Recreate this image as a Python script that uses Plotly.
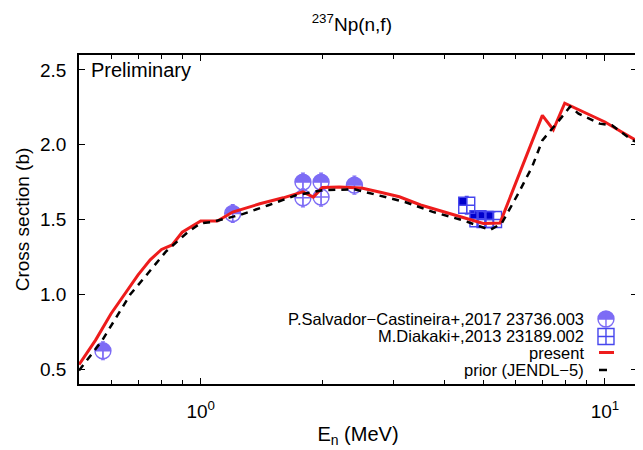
import math
import plotly.graph_objects as go

# ---------------- data ----------------
# P.Salvador-Castineira+,2017 (EXFOR 23736.003)
sal_x = [0.573, 1.20, 1.79, 1.79, 1.985, 1.985, 2.40]
sal_y = [0.622, 1.540, 1.645, 1.750, 1.650, 1.750, 1.730]
sal_err = [0.06, 0.06, 0.06, 0.06, 0.06, 0.06, 0.06]

# M.Diakaki+,2013 (EXFOR 23189.002)
dia_x = [4.55, 4.85, 5.05, 5.30]
dia_y = [1.595, 1.505, 1.500, 1.500]
dia_err = [0.06, 0.05, 0.05, 0.05]

# present evaluation
present_x = [0.50, 0.55, 0.60, 0.65, 0.70, 0.75, 0.80, 0.85, 0.90, 1.00, 1.10,
             1.20, 1.40, 1.60, 1.79, 1.90, 2.00, 2.20, 2.50, 2.80, 3.10, 3.50,
             4.00, 4.50, 5.00, 5.50, 7.00, 7.45, 7.95, 9.00, 10.0, 11.0, 12.0]
present_y = [0.530, 0.695, 0.870, 1.005, 1.130, 1.230, 1.300, 1.330, 1.415, 1.490, 1.490,
             1.550, 1.605, 1.645, 1.685, 1.650, 1.714, 1.718, 1.710, 1.680, 1.652, 1.597,
             1.548, 1.510, 1.473, 1.477, 2.196, 2.100, 2.278, 2.208, 2.152, 2.085, 2.025]

# prior (JENDL-5)
prior_x = [0.50, 0.57, 0.61, 0.67, 0.73, 0.82, 0.93, 1.00, 1.07, 1.25, 1.47, 1.72,
           2.00, 2.40, 3.20, 3.75, 4.45, 5.20, 5.55, 6.10, 6.60, 7.00, 7.70, 8.20,
           8.60, 9.70, 10.4, 11.7, 12.0]
prior_y = [0.490, 0.690, 0.820, 1.000, 1.120, 1.285, 1.417, 1.475, 1.484, 1.530, 1.595, 1.662,
           1.696, 1.702, 1.617, 1.551, 1.495, 1.430, 1.473, 1.673, 1.851, 2.029, 2.163, 2.255,
           2.208, 2.141, 2.130, 2.029, 2.020]

# axis ticks
y_ticks = [0.5, 1.0, 1.5, 2.0, 2.5]
y_ticktext = ["0.5", "1.0", "1.5", "2.0", "2.5"]
x_ticks = [1, 10]
x_ticktext = ["10<sup>0</sup>", "10<sup>1</sup>"]
x_minor = [0.6, 0.7, 0.8, 0.9, 2, 3, 4, 5, 6, 7, 8, 9]

# legend labels
leg_labels = ["P.Salvador\u2212Castineira+,2017 23736.003",
              "M.Diakaki+,2013 23189.002",
              "present",
              "prior (JENDL\u22125)"]

# ---------------- styling ----------------
FONT = "Liberation Sans, Arial, Helvetica, sans-serif"
PURPLE = "#7d6cf5"
BLUE_FILL = "#0000cc"
BLUE_LINE = "#4646ee"
RED = "#ee1c1c"
MS = 16  # marker size

# legend geometry (paper fractions of the plot area)
leg_rows = [0.1976, 0.1444, 0.0957, 0.0426]
leg_text_x = 0.908
leg_sym_x = 0.9444
leg_line_x = [0.9319, 0.9588]

fig = go.Figure()


def halfcircle_fill(x, y, xaxis="x", yaxis="y"):
    # filled disc
    fig.add_trace(go.Scatter(x=x, y=y, mode="markers", xaxis=xaxis, yaxis=yaxis,
                             marker=dict(symbol="circle", size=MS, color=PURPLE,
                                         line=dict(width=0)),
                             hoverinfo="skip", showlegend=False))


def halfcircle_cover(x, y, xaxis="x", yaxis="y"):
    # white square hiding the lower half of the disc
    fig.add_trace(go.Scatter(x=x, y=y, mode="markers", xaxis=xaxis, yaxis=yaxis,
                             marker=dict(symbol="square", size=MS + 1, color="white",
                                         angle=0, standoff=(MS + 1) / 2,
                                         line=dict(width=0)),
                             hoverinfo="skip", showlegend=False))


def halfcircle_outline(x, y, xaxis="x", yaxis="y", err=None):
    fig.add_trace(go.Scatter(x=x, y=y, mode="markers", xaxis=xaxis, yaxis=yaxis,
                             error_y=(dict(type="data", array=err, color=PURPLE,
                                           thickness=1.2, width=2) if err else None),
                             marker=dict(symbol="circle-cross-open", size=MS, color=PURPLE,
                                         line=dict(width=1.4, color=PURPLE)),
                             hoverinfo="skip", showlegend=False))


def quad_fill(x, y, xaxis="x", yaxis="y"):
    # filled upper-left quadrant of the square symbol
    fig.add_trace(go.Scatter(x=x, y=y, mode="markers", xaxis=xaxis, yaxis=yaxis,
                             marker=dict(symbol="diamond", size=MS / 2 * math.sqrt(2) / 1.3,
                                         color=BLUE_FILL, angle=135,
                                         standoff=MS / 4 * math.sqrt(2),
                                         line=dict(width=0)),
                             hoverinfo="skip", showlegend=False))


def square_outline(x, y, xaxis="x", yaxis="y", err=None):
    fig.add_trace(go.Scatter(x=x, y=y, mode="markers", xaxis=xaxis, yaxis=yaxis,
                             error_y=(dict(type="data", array=err, color=BLUE_LINE,
                                           thickness=1.2, width=2) if err else None),
                             marker=dict(symbol="square-cross-open", size=MS, color=BLUE_LINE,
                                         line=dict(width=1.4, color=BLUE_LINE)),
                             hoverinfo="skip", showlegend=False))


# ----- data marks -----
halfcircle_fill(sal_x, sal_y)
quad_fill(dia_x, dia_y)
halfcircle_cover(sal_x, sal_y)
halfcircle_outline(sal_x, sal_y, err=sal_err)
square_outline(dia_x, dia_y, err=dia_err)

fig.add_trace(go.Scatter(x=present_x, y=present_y, mode="lines", name="present",
                         line=dict(color=RED, width=3), showlegend=False))
fig.add_trace(go.Scatter(x=prior_x, y=prior_y, mode="lines", name="prior (JENDL-5)",
                         line=dict(color="black", width=2.5, dash="7px,6px"),
                         showlegend=False))

# ----- hand-made legend (symbols on the right, as in the reference) -----
lx = [leg_sym_x]
halfcircle_fill(lx, [leg_rows[0]], "x2", "y2")
quad_fill(lx, [leg_rows[1]], "x2", "y2")
halfcircle_cover(lx, [leg_rows[0]], "x2", "y2")
halfcircle_outline(lx, [leg_rows[0]], "x2", "y2")
square_outline(lx, [leg_rows[1]], "x2", "y2")
fig.add_trace(go.Scatter(x=leg_line_x, y=[leg_rows[2], leg_rows[2]], mode="lines",
                         xaxis="x2", yaxis="y2", line=dict(color=RED, width=3),
                         hoverinfo="skip", showlegend=False))
fig.add_trace(go.Scatter(x=leg_line_x, y=[leg_rows[3], leg_rows[3]], mode="lines",
                         xaxis="x2", yaxis="y2",
                         line=dict(color="black", width=2.5, dash="8px,10px"),
                         hoverinfo="skip", showlegend=False))

annotations = []
for lab, ry in zip(leg_labels, leg_rows):
    annotations.append(dict(text=lab, x=leg_text_x, y=ry, xref="paper", yref="paper",
                            xanchor="right", yanchor="middle", showarrow=False,
                            font=dict(size=16.5, color="black", family=FONT)))
annotations.append(dict(text="Preliminary", x=0.018, y=0.955, xref="paper", yref="paper",
                        xanchor="left", yanchor="middle", showarrow=False,
                        font=dict(size=20, color="black", family=FONT)))

axis_common = dict(showline=True, linecolor="black", linewidth=1.5, mirror="ticks",
                   ticks="inside", ticklen=6, tickwidth=1.2, tickcolor="black",
                   showgrid=False, zeroline=False, automargin=False,
                   tickfont=dict(size=19, color="black", family=FONT))

# the page body adds an 8 px offset, so the figure is sized to compensate
fig.update_layout(
    width=635, height=442,
    margin=dict(l=71, r=6, t=47, b=66, autoexpand=False),
    paper_bgcolor="white", plot_bgcolor="white",
    font=dict(family=FONT, color="black"),
    showlegend=False,
    title=dict(text="<sup>237</sup>Np(n,f)", x=0.489, xref="paper", xanchor="center",
               y=1 - 16 / 442, yref="container", yanchor="middle",
               font=dict(size=19, color="black", family=FONT)),
    xaxis=dict(type="log", range=[math.log10(0.5), math.log10(12)],
               tickmode="array", tickvals=x_ticks, ticktext=x_ticktext,
               ticklabelstandoff=9,
               minor=dict(tickmode="array", tickvals=x_minor, ticks="inside",
                          ticklen=4, tickwidth=1.2, tickcolor="black", showgrid=False),
               title=dict(text="E<sub>n</sub> (MeV)", standoff=6,
                          font=dict(size=20, color="black", family=FONT)),
               **axis_common),
    yaxis=dict(range=[0.4, 2.6], tickmode="array", tickvals=y_ticks, ticktext=y_ticktext,
               ticklabelstandoff=7,
               title=dict(text="Cross section (b)", standoff=5,
                          font=dict(size=19, color="black", family=FONT)),
               **axis_common),
    xaxis2=dict(overlaying="x", anchor="y2", range=[0, 1], visible=False, fixedrange=True),
    yaxis2=dict(overlaying="y", anchor="x2", range=[0, 1], visible=False, fixedrange=True),
    annotations=annotations,
)

fig.write_html("out.html")
